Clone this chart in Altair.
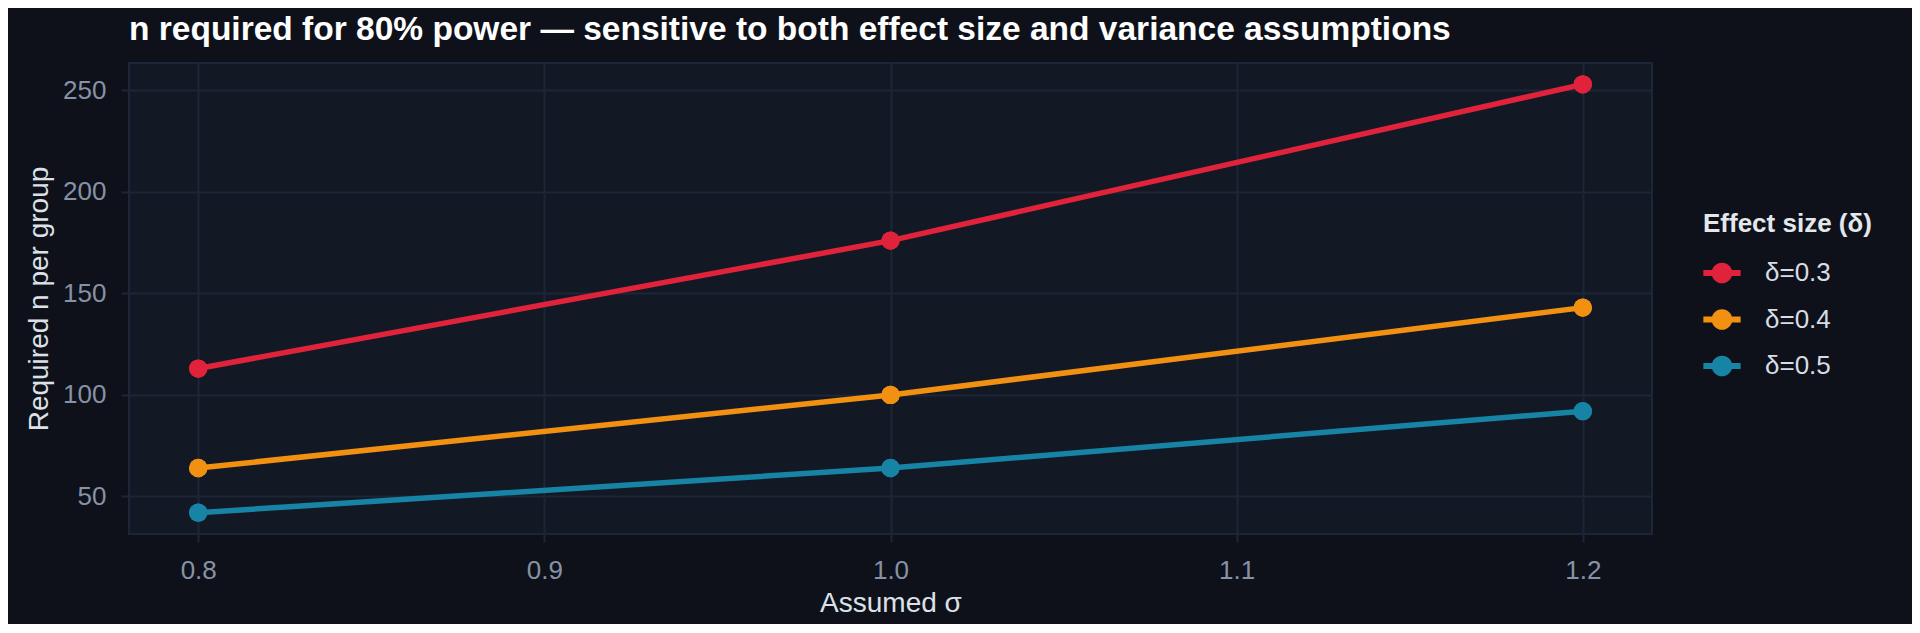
import altair as alt
import pandas as pd

# ---- data ----
sigma = [0.8, 1.0, 1.2]
n_delta_03 = [113, 176, 253]
n_delta_04 = [64, 100, 143]
n_delta_05 = [42, 64, 92]
series_labels = ["δ=0.3", "δ=0.4", "δ=0.5"]
series_colors = ["#E0233B", "#F29111", "#1784A6"]
x_ticks = [0.8, 0.9, 1.0, 1.1, 1.2]
y_ticks = [50, 100, 150, 200, 250]

rows = []
for lab, vals in zip(series_labels, [n_delta_03, n_delta_04, n_delta_05]):
    for s, v in zip(sigma, vals):
        rows.append({"sigma": s, "n": v, "delta": lab})
df = pd.DataFrame(rows)

FONT = "Liberation Sans"
BG = "#0E1119"
PANEL = "#131825"
GRID = "#1D2639"

legend_symbol = (
    "M-1,-0.16L1,-0.16L1,0.16L-1,0.16Z "
    "M-0.555,0A0.555,0.555,0,1,1,0.555,0A0.555,0.555,0,1,1,-0.555,0Z"
)

color_scale = alt.Scale(domain=series_labels, range=series_colors)
legend = alt.Legend(
    orient="none", legendX=1574, legendY=148, padding=0,
    symbolType=legend_symbol, symbolSize=1391, symbolStrokeWidth=0,
    symbolOpacity=1, labelOffset=24, rowPadding=14.5, titlePadding=17,
)
color_enc = alt.Color("delta:N", scale=color_scale, title="Effect size (δ)", legend=legend)

x_enc = alt.X(
    "sigma:Q",
    scale=alt.Scale(domain=[0.78, 1.22], nice=False, zero=False),
    axis=alt.Axis(
        values=x_ticks, format=".1f", title="Assumed σ",
        labelBaseline="alphabetic", labelPadding=36,
        titleBaseline="alphabetic", titleY=77,
    ),
)
y_enc = alt.Y(
    "n:Q",
    scale=alt.Scale(domain=[31.5, 263.5], nice=False, zero=False),
    axis=alt.Axis(
        values=y_ticks, title="Required n per group",
        labelPadding=15, titleBaseline="alphabetic",
        titleX=-82, titleY=235.5, titleAngle=270, titleAlign="center",
    ),
)

base = alt.Chart(df).encode(x=x_enc, y=y_enc, color=color_enc)

points = base.mark_point(filled=True, size=336, opacity=1)
lines = base.mark_line(strokeWidth=5.5)

chart = (
    alt.layer(points, lines, points)
    .properties(
        width=1523, height=471,
        title=alt.TitleParams(
            text="n required for 80% power — sensitive to both effect size and variance assumptions",
            anchor="start", frame="group", font=FONT, fontSize=33.5,
            fontWeight="bold", color="#FFFFFF", baseline="alphabetic", offset=24, dy=34,
        ),
        background=BG,
        padding={"left": 121, "top": 55, "right": 260, "bottom": 90},
        autosize=alt.AutoSizeParams(type="none"),
        usermeta={"embedOptions": {
            "defaultStyle": "html,body{background:#0E1119 !important;background-color:#0E1119 !important;}"
        }},
    )
    .configure_view(fill=PANEL, stroke=GRID, strokeWidth=2)
    .configure_axis(
        labelFont=FONT, labelFontSize=26, labelColor="#8792A6",
        titleFont=FONT, titleFontSize=28, titleColor="#DCE1E8", titleFontWeight="normal",
        gridColor=GRID, gridWidth=2, domain=False,
        tickColor=GRID, tickWidth=2, tickSize=8,
    )
    .configure_legend(
        titleFont=FONT, titleFontSize=26, titleFontWeight="bold", titleColor="#E4E7EC",
        labelFont=FONT, labelFontSize=26, labelColor="#D8DDE5",
    )
)

chart.save("out.html", embed_options={"renderer": "svg", "actions": False})
